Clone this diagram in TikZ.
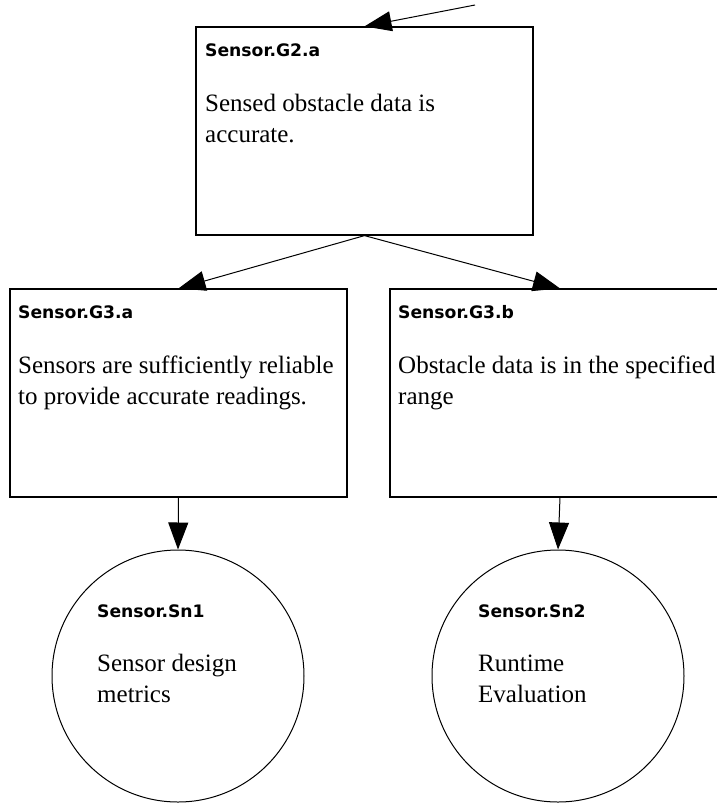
\documentclass[tikz,border=0pt]{standalone}
\usepackage{fontspec}
\setmainfont{Liberation Serif}
\newfontfamily\titlefont{DejaVu Sans}
\usetikzlibrary{arrows.meta}
\tikzset{
  goalbox/.style={draw=black, line width=1.2pt, rectangle, minimum width=337pt, minimum height=208pt, inner sep=0pt},
  solbox/.style={draw=black, line width=1pt, circle, minimum size=252pt, inner sep=0pt},
  ttl/.style={anchor=base west, inner sep=0pt, font=\titlefont\bfseries\fontsize{17.2}{20}\selectfont},
  bodytxt/.style={anchor=base west, inner sep=0pt, align=left, font=\fontsize{25}{31}\selectfont},
  link/.style={draw=black, line width=1pt, -{Triangle[length=27pt,width=20pt]}}
}
\begin{document}
\begin{tikzpicture}[x=1pt,y=-1pt]
\useasboundingbox (0,0) rectangle (717,804);
\clip (0,0) rectangle (717,804);
\node[goalbox] (g2a) at (364.5,131) {};
\node[goalbox] (g3a) at (178.5,393) {};
\node[goalbox, minimum width=340pt] (g3b) at (560,393) {};
\node[solbox] (sn1) at (178,676) {};
\node[solbox] (sn2) at (558,676) {};
\coordinate (topsrc) at (475,5);
% texts (body anchors sit on the baseline of the last line)
\node[ttl] (g2at) at (205,56) {Sensor.G2.a};
\node[bodytxt] (g2ab) at (205,142) {Sensed obstacle data is\\accurate.};
\node[ttl] (g3at) at (18,318) {Sensor.G3.a};
\node[bodytxt] (g3ab) at (18,404) {Sensors are sufficiently reliable\\to provide accurate readings.};
\node[ttl] (g3bt) at (398,318) {Sensor.G3.b};
\node[bodytxt] (g3bb) at (398,404) {Obstacle data is in the specified\\range};
\node[ttl] (sn1t) at (97,617) {Sensor.Sn1};
\node[bodytxt] (sn1b) at (97,702) {Sensor design\\metrics};
\node[ttl] (sn2t) at (478,617) {Sensor.Sn2};
\node[bodytxt] (sn2b) at (478,702) {Runtime\\Evaluation};
% connectors
\draw[link] (topsrc) -- (g2a.north);
\draw[link] (g2a.south) -- (g3a.north);
\draw[link] (g2a.south) -- (g3b.north);
\draw[link] (g3a.south) -- (sn1.north);
\draw[link] (g3b.south) -- (sn2.north);
\end{tikzpicture}
\end{document}
